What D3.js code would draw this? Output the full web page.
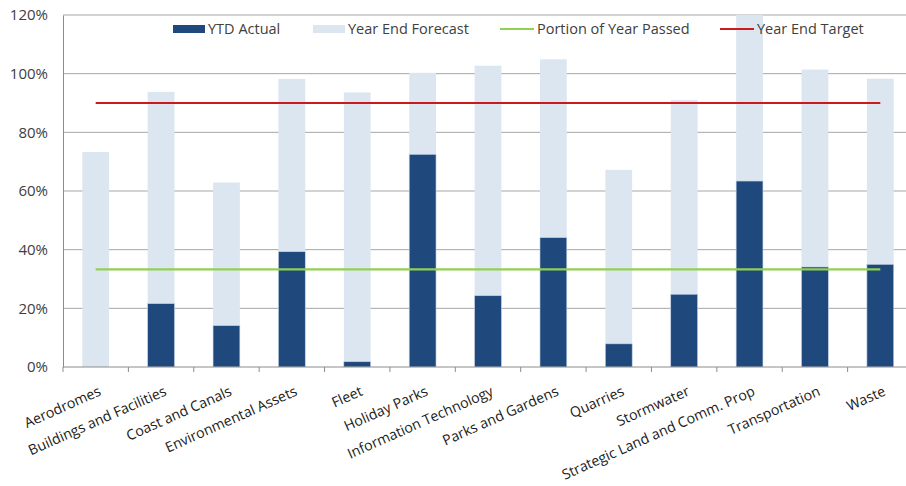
<!DOCTYPE html>
<html><head><meta charset="utf-8">
<script src="https://cdn.jsdelivr.net/npm/d3@7/dist/d3.min.js"></script>
<style>body{margin:0;background:#fff}svg{display:block}</style>
</head><body>
<svg id="c" width="906" height="486"></svg>
<script>
const categories = ["Aerodromes","Buildings and Facilities","Coast and Canals","Environmental Assets","Fleet","Holiday Parks","Information Technology","Parks and Gardens","Quarries","Stormwater","Strategic Land and Comm. Prop","Transportation","Waste"];
const ytdActual = [0.0, 21.6, 14.1, 39.3, 1.8, 72.5, 24.3, 44.1, 7.9, 24.8, 63.4, 34.1, 35.0];
const yearEndForecast = [73.3, 93.8, 62.9, 98.2, 93.6, 100.3, 102.7, 104.9, 67.2, 91.0, 125.0, 101.4, 98.3];
const portionOfYearPassed = 33.3;
const yearEndTarget = 90;
const yTicks = [0, 20, 40, 60, 80, 100, 120];
const seriesNames = ["YTD Actual","Year End Forecast","Portion of Year Passed","Year End Target"];

const svg = d3.select("#c");
const L = 63, R = 913, T = 15, B = 367;
const x = d3.scaleBand().domain(categories).range([L, R]).paddingInner(0.59).paddingOuter(0.295);
const y = d3.scaleLinear().domain([0, 120]).range([B, T]);
const font = "'Open Sans', sans-serif";
const textCol = "#404040";

// gridlines
svg.append("g").selectAll("line").data(yTicks.filter(d => d > 0)).join("line")
  .attr("x1", L).attr("x2", 906).attr("y1", d => y(d)).attr("y2", d => y(d))
  .attr("stroke", "#a6a6a6").attr("stroke-width", 1);

const plot = svg.append("g");
svg.append("clipPath").attr("id", "pc").append("rect").attr("x", L).attr("y", T).attr("width", R - L).attr("height", B - T);
plot.attr("clip-path", "url(#pc)");

plot.selectAll("rect.f").data(categories).join("rect").attr("class", "f")
  .attr("x", d => x(d)).attr("width", x.bandwidth())
  .attr("y", (d, i) => y(yearEndForecast[i])).attr("height", (d, i) => B - y(yearEndForecast[i]))
  .attr("fill", "#dce6f0");
plot.selectAll("rect.a").data(categories).join("rect").attr("class", "a")
  .attr("x", d => x(d)).attr("width", x.bandwidth())
  .attr("y", (d, i) => y(ytdActual[i])).attr("height", (d, i) => B - y(ytdActual[i]))
  .attr("fill", "#1f497d").attr("stroke", "#c5d3e6").attr("stroke-width", 0.6);

// y axis
const yAxis = d3.axisLeft(y).tickValues(yTicks).tickFormat(d => d + "%").tickSize(0).tickPadding(15);
const ya = svg.append("g").attr("transform", `translate(${L},0)`).call(yAxis);
ya.select(".domain").attr("stroke", "#8c8c8c");
ya.selectAll("text").attr("font-family", font).attr("font-size", 15).attr("fill", textCol);

// x axis
const xAxis = d3.axisBottom(x).tickSize(0).tickFormat("");
const xa = svg.append("g").attr("transform", `translate(0,${B})`).call(xAxis);
xa.select(".domain").attr("stroke", "#8c8c8c").attr("d", `M${L},0H${R}`);
const step = x.step();
xa.selectAll("line.tk").data(d3.range(categories.length + 1)).join("line").attr("class", "tk")
  .attr("x1", i => L + i * step).attr("x2", i => L + i * step).attr("y1", 0).attr("y2", 5)
  .attr("stroke", "#8c8c8c");
xa.selectAll("text.lbl").data(categories).join("text").attr("class", "lbl")
  .attr("transform", d => `translate(${x(d) + x.bandwidth() / 2 + 2},${18}) rotate(-24)`)
  .attr("text-anchor", "end").attr("dy", "0.75em")
  .attr("font-family", font).attr("font-size", 14.2).attr("fill", "#202020")
  .text(d => d);

// lines
const x0 = x(categories[0]) + x.bandwidth() / 2, x1 = x(categories[categories.length - 1]) + x.bandwidth() / 2;
svg.append("line").attr("x1", x0).attr("x2", x1).attr("y1", y(portionOfYearPassed)).attr("y2", y(portionOfYearPassed))
  .attr("stroke", "#92d050").attr("stroke-width", 2.2);
svg.append("line").attr("x1", x0).attr("x2", x1).attr("y1", y(yearEndTarget)).attr("y2", y(yearEndTarget))
  .attr("stroke", "#cc1a1a").attr("stroke-width", 2.2);

// legend
const lg = svg.append("g").attr("font-family", font).attr("font-size", 14.5).attr("fill", textCol);
const legX = [173, 313, 500, 720];
seriesNames.forEach((n, i) => {
  const g = lg.append("g").attr("transform", `translate(${legX[i]},29)`);
  if (i < 2) g.append("rect").attr("x", 0).attr("y", -4).attr("width", 32).attr("height", 8).attr("fill", i === 0 ? "#1f497d" : "#dce6f0");
  else g.append("line").attr("x1", 0).attr("x2", 34).attr("stroke", i === 2 ? "#92d050" : "#cc1a1a").attr("stroke-width", 2.2);
  g.append("text").attr("x", i < 2 ? 35 : 37).attr("dy", "0.35em").text(n);
});
</script>
</body></html>
